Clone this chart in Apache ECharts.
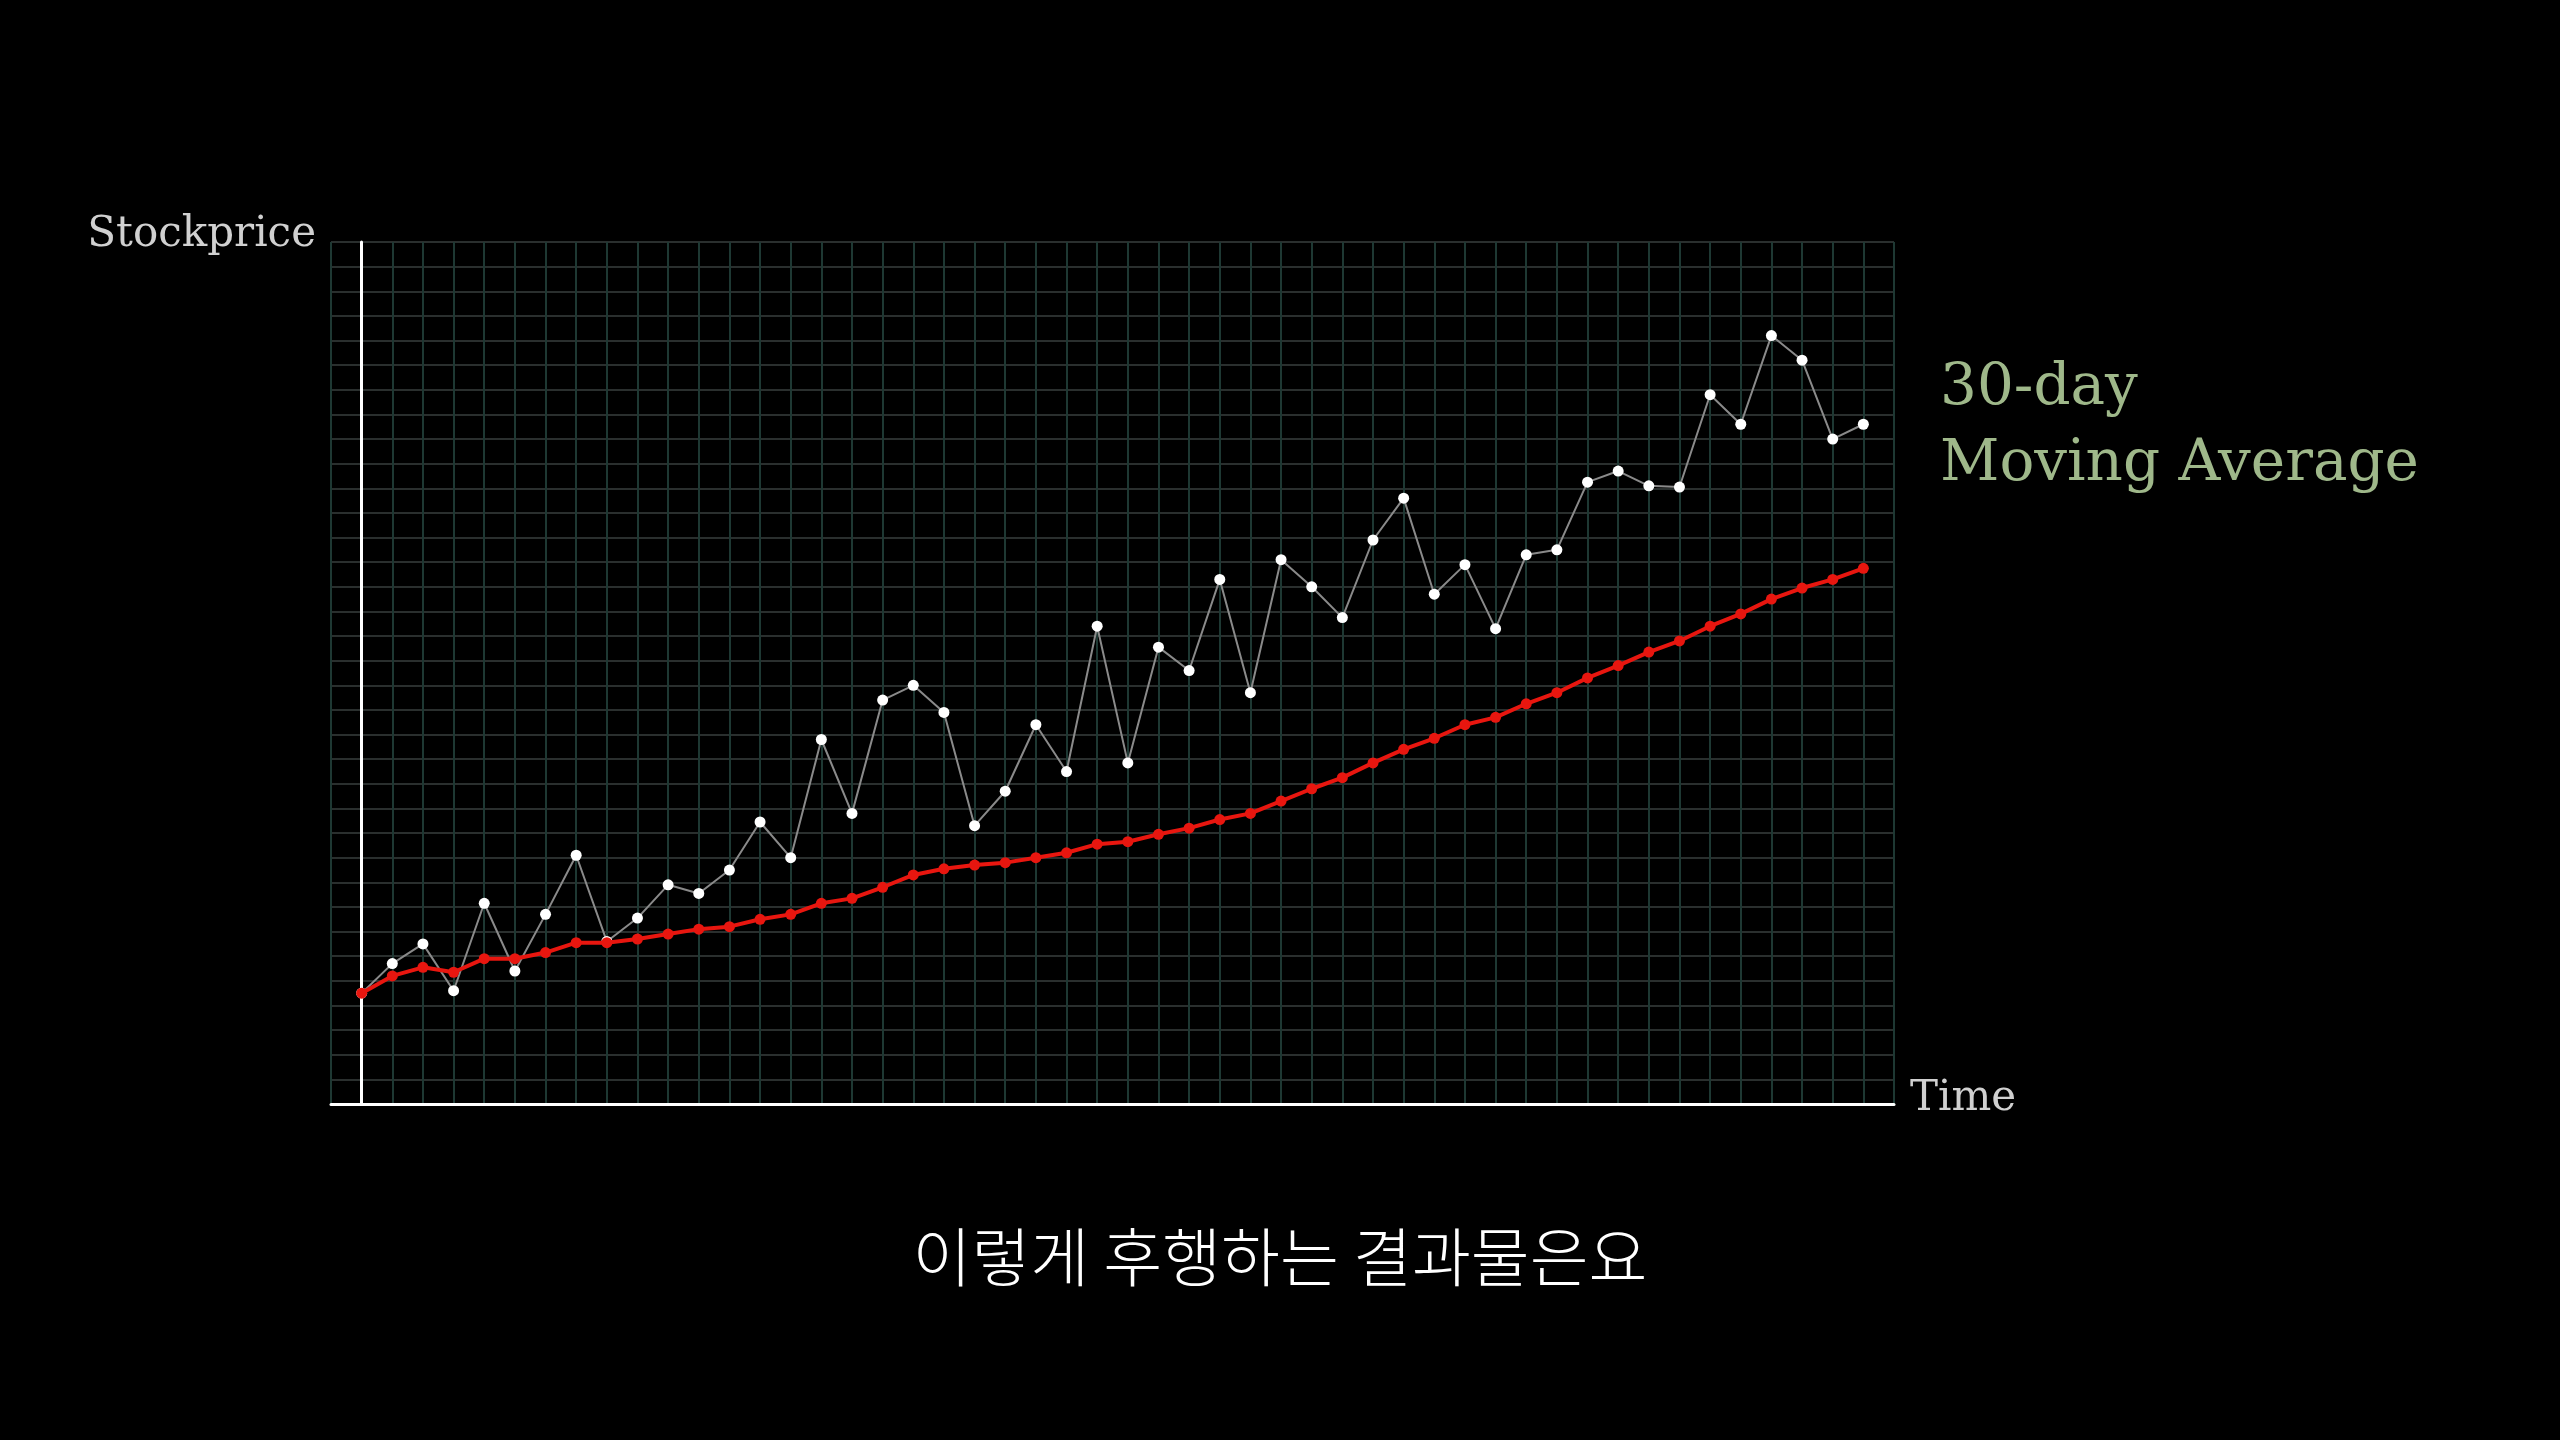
<!DOCTYPE html>
<html><head><meta charset="utf-8">
<script src="https://cdn.jsdelivr.net/npm/echarts@6/dist/echarts.min.js"></script>
<style>html,body{margin:0;padding:0;background:#000}#c{width:2560px;height:1440px}</style>
</head><body><div id="c"></div>
<script>
const days = Array.from({length:50},(_,i)=>i);
const price = [4.5,5.7,6.5,4.6,8.15,5.4,7.7,10.1,6.6,7.55,8.9,8.55,9.5,11.45,10.0,14.8,11.8,16.4,17.0,15.9,11.3,12.7,15.4,13.5,19.4,13.85,18.55,17.6,21.3,16.7,22.1,21.0,19.75,22.9,24.6,20.7,21.9,19.3,22.3,22.5,25.25,25.7,25.1,25.05,28.8,27.6,31.2,30.2,27.0,27.6];
const movingAvg = [4.5,5.2,5.55,5.35,5.9,5.9,6.15,6.55,6.55,6.7,6.9,7.1,7.2,7.5,7.7,8.15,8.35,8.8,9.3,9.55,9.7,9.8,10.0,10.2,10.55,10.65,10.95,11.2,11.55,11.8,12.3,12.8,13.25,13.85,14.4,14.85,15.4,15.7,16.25,16.7,17.3,17.8,18.35,18.8,19.4,19.9,20.5,20.95,21.3,21.75];
const yLabel = 'Stockprice', xLabel = 'Time';
const legendLines = ['30-day','Moving Average'];
const caption = '이렇게 후행하는 결과물은요';

const serif = 'DejaVu Serif';
const chart = echarts.init(document.getElementById('c'));
chart.setOption({
  backgroundColor:'#000',
  animation:false,
  grid:{left:331,right:666,top:242,bottom:336},
  xAxis:{type:'value',min:-1,max:50,interval:1,
    axisLine:{show:true,onZero:false,lineStyle:{color:'#fff',width:3}},
    axisTick:{show:false},axisLabel:{show:false},
    splitLine:{show:true,lineStyle:{color:'#1e3833',width:2}}},
  yAxis:{type:'value',min:0,max:35,interval:1,
    axisLine:{show:true,lineStyle:{color:'#fff',width:3}},
    axisTick:{show:false},axisLabel:{show:false},
    splitLine:{show:true,lineStyle:{color:'#2a2f2e',width:2}}},
  series:[
    {type:'line',data:days.map((d,i)=>[d,price[i]]),symbol:'circle',symbolSize:11,
      lineStyle:{color:'#8a8a8a',width:2},itemStyle:{color:'#fff',borderWidth:0},z:3},
    {type:'line',data:days.map((d,i)=>[d,movingAvg[i]]),symbol:'circle',symbolSize:11,
      lineStyle:{color:'#e8160f',width:4},itemStyle:{color:'#e8160f',borderWidth:0},z:4}
  ],
  graphic:[
    {type:'text',right:2560-316,top:214,style:{text:yLabel,fill:'#d0d0d0',font:'42px "'+serif+'"'}},
    {type:'text',left:1910,top:1078,style:{text:xLabel,fill:'#d0d0d0',font:'42px "'+serif+'"'}},
    {type:'text',left:1940,top:360,style:{text:legendLines[0],fill:'#9fb88a',font:'58px "'+serif+'"'}},
    {type:'text',left:1940,top:436,style:{text:legendLines[1],fill:'#9fb88a',font:'58px "'+serif+'"'}},
    {type:'text',left:'center',top:1225,style:{text:caption,fill:'#fff',font:'300 64px "Noto Sans CJK KR"'}}
  ]
});
</script></body></html>
